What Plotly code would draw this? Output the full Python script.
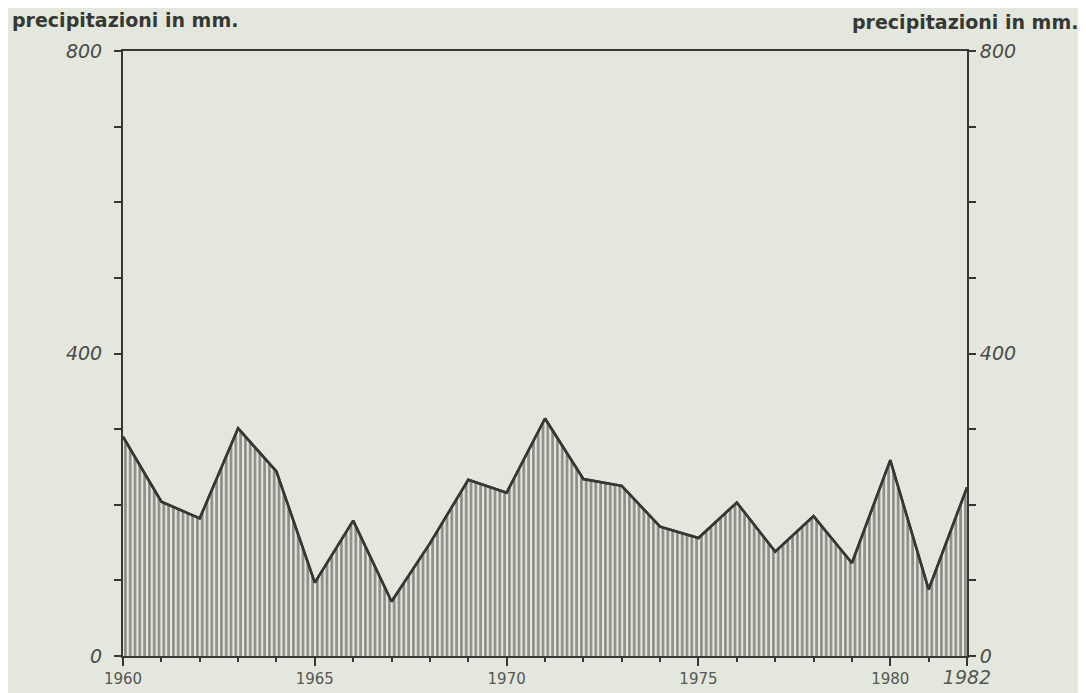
import plotly.graph_objects as go

years = list(range(1960, 1983))
precip = [290, 204, 182, 301, 244, 97, 179, 72, 149, 233, 216, 314,
          234, 225, 171, 156, 203, 138, 185, 123, 259, 88, 223]

y_tickvals = [0, 400, 800]
y_ticktext = ["0", "400", "800"]
x_tickvals = [1960, 1965, 1970, 1975, 1980, 1982]
x_ticktext = ["1960", "1965", "1970", "1975", "1980",
              "<span style='font-size:19px;font-style:italic'>1982</span>"]
axis_title = "precipitazioni in mm."

bg = "#e4e7dd"
ink = "#363833"

fig = go.Figure()
fig.add_trace(go.Scatter(
    x=years, y=precip, mode="lines", fill="tozeroy",
    line=dict(color=ink, width=2.5),
    fillcolor=bg,
    fillpattern=dict(shape="|", size=4.8, solidity=0.55, fgcolor="#2f322d", bgcolor=bg),
    hoverinfo="skip", showlegend=False, yaxis="y"))
fig.add_trace(go.Scatter(
    x=years, y=precip, mode="lines",
    line=dict(color=ink, width=2.5),
    hoverinfo="skip", showlegend=False, yaxis="y2"))

yfont = dict(family="DejaVu Sans", size=19, color="#4a4c47", style="italic")
tfont = dict(family="DejaVu Sans", size=19, color=ink, weight=600)
fig.update_layout(
    width=1086, height=693,
    paper_bgcolor=bg, plot_bgcolor=bg,
    margin=dict(l=115, r=127, t=43, b=45),
    xaxis=dict(range=[1960, 1982], showgrid=False, zeroline=False,
               showline=True, linecolor=ink, linewidth=2, mirror=True,
               tickvals=x_tickvals, ticktext=x_ticktext,
               ticks="outside", ticklen=8, tickwidth=2, tickcolor=ink,
               minor=dict(dtick=1, ticks="outside", ticklen=4, tickwidth=1.5, tickcolor=ink),
               tickfont=dict(family="DejaVu Sans", size=15, color="#555752")),
    yaxis=dict(range=[0, 800], showgrid=False, zeroline=False,
               showline=True, linecolor=ink, linewidth=2,
               tickvals=y_tickvals, ticktext=y_ticktext,
               ticks="outside", ticklen=7, tickwidth=2, tickcolor=ink,
               ticklabelstandoff=8,
               minor=dict(dtick=100, tick0=0, ticks="outside", ticklen=7, tickwidth=2, tickcolor=ink),
               tickfont=yfont),
    yaxis2=dict(range=[0, 800], overlaying="y", side="right", showgrid=False, zeroline=False,
                showline=True, linecolor=ink, linewidth=2,
                tickvals=y_tickvals, ticktext=y_ticktext,
                ticks="outside", ticklen=7, tickwidth=2, tickcolor=ink,
                minor=dict(dtick=100, tick0=0, ticks="outside", ticklen=7, tickwidth=2, tickcolor=ink),
                tickfont=yfont),
    annotations=[
        dict(text=axis_title, xref="paper", yref="paper", x=-0.1339, y=1.0, yshift=31,
             xanchor="left", yanchor="middle", showarrow=False, font=tfont),
        dict(text=axis_title, xref="paper", yref="paper", x=1.1339, y=1.0, yshift=29,
             xanchor="right", yanchor="middle", showarrow=False, font=tfont),
    ],
)
fig.write_html("out.html")
